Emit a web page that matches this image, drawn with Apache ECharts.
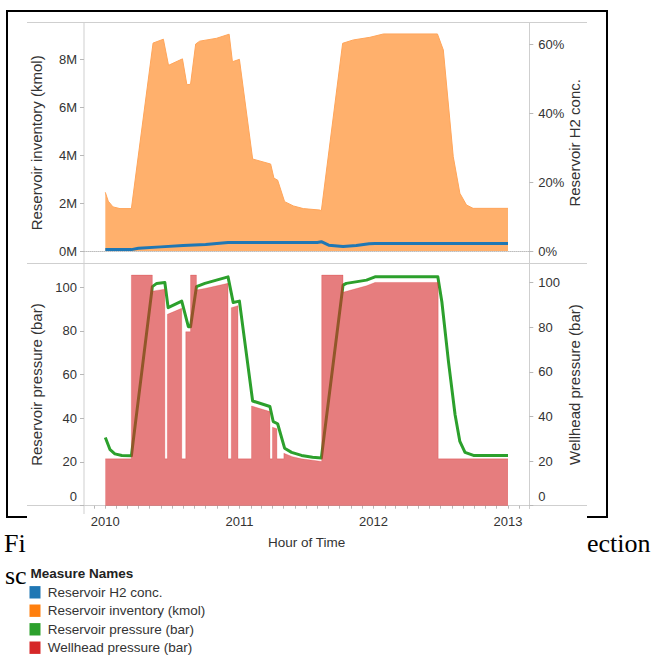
<!DOCTYPE html>
<html>
<head>
<meta charset="utf-8">
<script src="https://cdn.jsdelivr.net/npm/echarts@6/dist/echarts.min.js"></script>
<style>
  html, body { margin: 0; padding: 0; background: #fff; }
  #chart { width: 653px; height: 657px; }
</style>
</head>
<body>
<div id="chart"></div>
<script>
// ---- Reservoir inventory (kmol), top pane, left axis ----
const inventoryDates = ['2010-01-01','2010-01-09','2010-01-22','2010-02-10','2010-03-13','2010-05-11','2010-06-08',
  '2010-06-22','2010-07-30','2010-08-11','2010-08-21','2010-09-04','2010-09-15','2010-10-31','2010-12-04',
  '2010-12-13','2011-01-01','2011-02-06','2011-03-27','2011-04-05','2011-04-15','2011-05-04','2011-05-28',
  '2011-06-24','2011-08-08','2011-08-12','2011-10-09','2011-11-07','2011-12-22','2012-01-28','2012-06-23',
  '2012-07-09','2012-08-05','2012-08-23','2012-09-10','2012-09-28','2013-01-01'];
const inventoryKmol = [2.45e6,2.08e6,1.84e6,1.77e6,1.77e6,8.68e6,8.84e6,
  7.75e6,8.02e6,6.94e6,6.96e6,8.64e6,8.76e6,8.88e6,9.05e6,
  7.90e6,8.00e6,3.84e6,3.63e6,3.04e6,2.96e6,2.06e6,1.88e6,
  1.77e6,1.71e6,1.68e6,8.67e6,8.81e6,8.92e6,9.06e6,9.06e6,
  8.39e6,3.94e6,2.41e6,1.92e6,1.78e6,1.78e6];

// ---- Reservoir H2 concentration (fraction), top pane, right axis ----
const h2Dates = ['2010-01-01','2010-03-13','2010-04-01','2010-06-01','2010-08-01','2010-10-01','2010-12-01',
  '2011-08-01','2011-08-12','2011-09-01','2011-10-10','2011-11-15','2011-12-20','2012-01-05','2013-01-01'];
const h2Conc = [0.004,0.004,0.008,0.012,0.016,0.019,0.025,
  0.025,0.027,0.017,0.013,0.016,0.021,0.022,0.022];

// ---- Reservoir pressure (bar), bottom pane, left axis ----
const resPressDates = ['2010-01-01','2010-01-14','2010-01-27','2010-02-15','2010-03-13','2010-05-09','2010-05-21',
  '2010-06-12','2010-06-21','2010-07-28','2010-08-15','2010-08-21','2010-09-06','2010-09-29','2010-12-01',
  '2010-12-15','2011-01-01','2011-02-06','2011-03-25','2011-04-03','2011-04-15','2011-05-04','2011-05-23',
  '2011-06-19','2011-07-19','2011-08-12','2011-10-10','2011-10-19','2011-12-13','2012-01-05','2012-06-24',
  '2012-07-05','2012-07-23','2012-08-10','2012-08-23','2012-09-06','2012-09-29','2013-01-01'];
const resPressBar = [31.2,25.6,23.7,23.0,22.8,100.2,101.7,
  102.1,90.6,93.6,81.9,81.9,100.2,101.7,104.7,
  93.0,93.6,47.9,45.4,38.5,37.5,26.3,24.4,
  23.0,22.2,21.8,100.9,101.7,103.2,104.7,104.7,
  93.3,65.9,41.6,29.4,24.4,23.0,23.0];

// ---- Wellhead pressure (bar), bottom pane, right axis ----
const wellDates = ['2010-01-01','2010-03-13','2010-03-13','2010-05-09','2010-05-09','2010-06-12','2010-06-12',
  '2010-06-19','2010-06-19','2010-07-28','2010-07-28','2010-08-08','2010-08-08','2010-08-21','2010-08-21',
  '2010-09-06','2010-09-06','2010-09-29','2010-12-01','2010-12-01','2010-12-10','2010-12-10','2010-12-28',
  '2010-12-28','2011-02-03','2011-02-03','2011-03-25','2011-03-25','2011-04-01','2011-04-01','2011-04-13',
  '2011-04-13','2011-05-02','2011-05-02','2011-05-25','2011-06-19','2011-07-19','2011-08-13','2011-08-13',
  '2011-10-10','2011-10-10','2011-12-13','2012-01-05','2012-06-25','2012-06-25','2013-01-01'];
const wellBar = [21,21,103.4,103.4,96.2,97.1,21,
  21,85.8,88.5,21,21,78,78,103.4,
  103.4,96.7,97.4,99.7,21,21,88.8,89.7,
  21,21,44.7,42.2,21,21,35.2,34.5,
  21,21,23.5,22.0,21.0,20.4,19.8,103.4,
  103.4,95.7,98.6,100.1,100.1,21,21];

// ---- axis ticks ----
const inventoryTicks = [0, 2e6, 4e6, 6e6, 8e6];
const h2Ticks = [0, 0.2, 0.4, 0.6];
const pressureTicks = [0, 20, 40, 60, 80, 100];
const yearTicks = [2010, 2011, 2012, 2013];

const legendNames = ['Reservoir H2 conc.', 'Reservoir inventory (kmol)', 'Reservoir pressure (bar)', 'Wellhead pressure (bar)'];
const legendColors = ['#1f77b4', '#ff7f0e', '#2ca02c', '#d62728'];

// local-time timestamp from 'YYYY-MM-DD'
function ts(s) {
  const p = s.split('-').map(Number);
  return new Date(p[0], p[1] - 1, p[2]).getTime();
}
function pairs(dates, vals) { return dates.map((d, i) => [ts(d), vals[i]]); }

const xMin = ts('2009-11-04');
const xMax = ts('2013-02-28');
const monthTicks = [];
for (let y = 2009; y <= 2013; y++) {
  for (let m = 0; m < 12; m++) {
    const v = new Date(y, m, 1).getTime();
    if (v >= xMin && v <= xMax) monthTicks.push(v);
  }
}
const yearTickValues = yearTicks.map(y => new Date(y, 0, 1).getTime());

const FONT = "'Liberation Sans', Arial, sans-serif";
const TXT = '#333';
const GRID_LINE = '#cfcfcf';
const TICK = '#b8b8b8';

function isMultiple(v, step) { return Math.abs(v / step - Math.round(v / step)) < 1e-6; }

function yAxisBase(gridIndex, position, max, interval, ticks, fmt, margin) {
  return {
    type: 'value', gridIndex, position, min: 0, max, interval,
    axisLine: { show: false },
    axisTick: { show: true, length: 4, lineStyle: { color: TICK }, customValues: ticks },
    axisLabel: {
      customValues: ticks, margin, color: TXT, fontSize: 13, fontFamily: FONT,
      formatter: v => isMultiple(v, interval) ? fmt(v) : '',
      rich: { z: { padding: [0, 0, 18, 0], color: TXT, fontSize: 13, fontFamily: FONT } }
    },
    splitLine: { show: false },
    nameLocation: 'middle', nameRotate: 90, nameMoveOverlap: false
  };
}
// axis title style; the top pane's titles sit centred on the whole pane,
// which reaches a little below the zero line
const titleStyle = { color: TXT, fontSize: 15, fontFamily: FONT };
const topTitleStyle = Object.assign({ padding: [0, 12, 0, 0] }, titleStyle);

const hLine = (x1, x2, y, color, w) => ({ type: 'line', silent: true, z: 0,
  shape: { x1, y1: y, x2, y2: y }, style: { stroke: color, lineWidth: w } });
const vLine = (x, y1, y2, color, w) => ({ type: 'line', silent: true, z: 0,
  shape: { x1: x, y1, x2: x, y2 }, style: { stroke: color, lineWidth: w } });

const graphic = [
  // page frame behind the figure
  hLine(6, 608, 11, '#000', 2),
  vLine(7, 10, 518, '#000', 2),
  vLine(607, 10, 518, '#000', 2),
  hLine(6, 27, 517, '#000', 2),
  hLine(587, 608, 517, '#000', 2),
  // page text around the figure
  { type: 'text', left: 4, top: 530, style: { text: 'Fi', font: "26px 'Liberation Serif', 'Times New Roman', serif", fill: '#000' } },
  { type: 'text', left: 587, top: 530, style: { text: 'ection', font: "26px 'Liberation Serif', 'Times New Roman', serif", fill: '#000' } },
  { type: 'text', left: 5, top: 562, style: { text: 'sc', font: "26px 'Liberation Serif', 'Times New Roman', serif", fill: '#000' } },
  // pane borders
  hLine(27, 587, 22.5, GRID_LINE, 1),
  hLine(27, 587, 263.5, GRID_LINE, 1),
  hLine(27, 587, 505.5, GRID_LINE, 1),
  vLine(84, 22.5, 514, GRID_LINE, 1),
  vLine(529.5, 22.5, 509, GRID_LINE, 1),
  // legend
  { type: 'text', left: 30.5, top: 566, style: { text: 'Measure Names', font: "bold 13.5px 'Liberation Sans', Arial, sans-serif", fill: '#222' } }
];
const legendY = [592.3, 610.7, 629.3, 647.7];
legendNames.forEach((n, i) => {
  graphic.push({ type: 'rect', silent: true, shape: { x: 29.5, y: legendY[i] - 6.2, width: 11, height: 12.4 }, style: { fill: legendColors[i] } });
  graphic.push({ type: 'text', silent: true, x: 47.7, y: legendY[i], style: { text: n, font: "13.5px 'Liberation Sans', Arial, sans-serif", fill: TXT, verticalAlign: 'middle', align: 'left' } });
});

const option = {
  animation: false,
  backgroundColor: '#fff',
  grid: [
    { left: 84, right: 123.7, top: 22.7, height: 228.3 },
    { left: 84, right: 123.7, top: 263.5, height: 242.2 }
  ],
  xAxis: [
    {
      type: 'value', gridIndex: 0, min: xMin, max: xMax,
      axisLine: { show: true, lineStyle: { color: '#bdbdbd', type: 'dotted', width: 1 } },
      axisTick: { show: false }, axisLabel: { show: false }, splitLine: { show: false }
    },
    {
      type: 'value', gridIndex: 1, min: xMin, max: xMax,
      axisLine: { show: false },
      axisTick: { show: true, length: 3, lineStyle: { color: TICK }, customValues: monthTicks },
      axisLabel: {
        customValues: yearTickValues, margin: 9, color: TXT, fontSize: 13, fontFamily: FONT,
        formatter: v => { const d = new Date(v); return (d.getMonth() === 0 && d.getDate() === 1) ? String(d.getFullYear()) : ''; }
      },
      splitLine: { show: false },
      name: 'Hour of Time', nameLocation: 'middle', nameGap: 30,
      nameTextStyle: { color: TXT, fontSize: 13.5, fontFamily: FONT }
    }
  ],
  yAxis: [
    Object.assign(yAxisBase(0, 'left', 9.53e6, 2e6, inventoryTicks, v => (v / 1e6) + 'M', 7),
      { name: 'Reservoir inventory (kmol)', nameGap: 40, nameTextStyle: topTitleStyle }),
    Object.assign(yAxisBase(0, 'right', 0.664, 0.2, h2Ticks, v => Math.round(v * 100) + '%', 9),
      { name: 'Reservoir H2 conc.', nameGap: 38, nameTextStyle: topTitleStyle }),
    Object.assign(yAxisBase(1, 'left', 110.8, 20, pressureTicks, v => v === 0 ? '{z|0}' : String(v), 7),
      { name: 'Reservoir pressure (bar)', nameGap: 40, nameTextStyle: titleStyle }),
    Object.assign(yAxisBase(1, 'right', 108.6, 20, pressureTicks, v => v === 0 ? '{z|0}' : String(v), 9),
      { name: 'Wellhead pressure (bar)', nameGap: 38, nameTextStyle: titleStyle })
  ],
  series: [
    {
      name: 'Reservoir inventory (kmol)', type: 'line', xAxisIndex: 0, yAxisIndex: 0,
      data: pairs(inventoryDates, inventoryKmol), symbol: 'none', z: 2,
      lineStyle: { color: '#ffa55a', width: 1 },
      areaStyle: { color: '#ffb06c', opacity: 1 }
    },
    {
      name: 'Reservoir H2 conc.', type: 'line', xAxisIndex: 0, yAxisIndex: 1,
      data: pairs(h2Dates, h2Conc), symbol: 'none', z: 3,
      lineStyle: { color: '#1f77b4', width: 3 }
    },
    {
      name: 'Reservoir pressure (bar)', type: 'line', xAxisIndex: 1, yAxisIndex: 2,
      data: pairs(resPressDates, resPressBar), symbol: 'none', z: 2,
      lineStyle: { color: '#2ca02c', width: 3, join: 'round' }
    },
    {
      name: 'Wellhead pressure (bar)', type: 'line', xAxisIndex: 1, yAxisIndex: 3,
      data: pairs(wellDates, wellBar), symbol: 'none', z: 3,
      lineStyle: { color: 'rgba(214,39,40,0.25)', width: 1 },
      areaStyle: { color: '#d62728', opacity: 0.6 }
    }
  ],
  graphic
};

const chart = echarts.init(document.getElementById('chart'), null, { renderer: 'svg' });
chart.setOption(option);
</script>
</body>
</html>
